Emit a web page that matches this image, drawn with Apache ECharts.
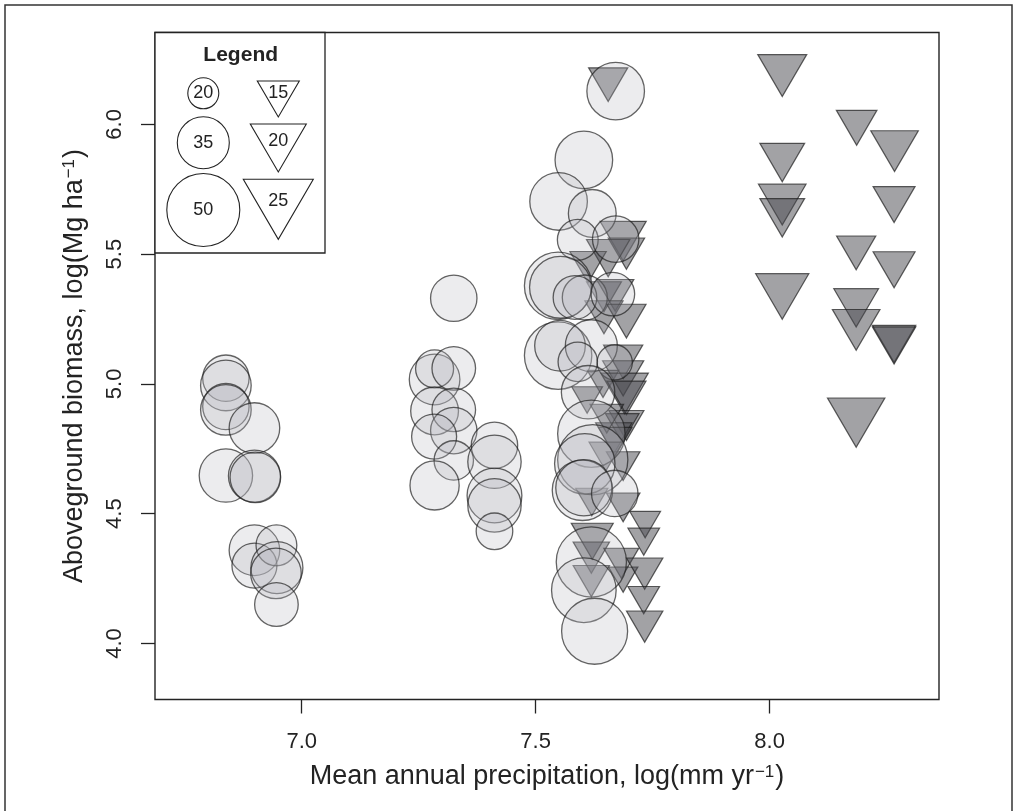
<!DOCTYPE html>
<html><head><meta charset="utf-8">
<script src="https://cdn.jsdelivr.net/npm/echarts@6/dist/echarts.min.js"></script>
<style>html,body{margin:0;padding:0;background:#fff}#c{width:1018px;height:811px}</style>
</head><body><div id="c"></div>
<script>
// ---- data ----
const xTicks = [7.0, 7.5, 8.0];
const yTicks = [4.0, 4.5, 5.0, 5.5, 6.0];
const legendCircleValues = [20, 35, 50];
const legendTriangleValues = [15, 20, 25];

// [log mean annual precipitation, log aboveground biomass, size value]
const circlesDry = [
  [6.838,5.022,31],[6.838,4.994,34],[6.838,4.913,31],[6.838,4.900,34],[6.899,4.830,34],
  [6.838,4.647,36],[6.899,4.645,35],[6.901,4.640,34],[6.899,4.359,34],[6.899,4.300,30],
  [6.946,4.378,27],[6.947,4.292,35],[6.945,4.270,34],[6.946,4.150,29]
];
const circlesMid = [
  [7.325,5.330,31],[7.284,5.017,34],[7.284,5.058,25],[7.325,5.060,29],[7.284,4.896,32],
  [7.325,4.900,29],[7.325,4.820,31],[7.283,4.797,30],[7.325,4.705,26],[7.284,4.609,33],
  [7.412,4.763,31],[7.412,4.700,36],[7.412,4.570,37],[7.412,4.532,36],[7.412,4.432,24]
];
const circlesWet = [
  [7.671,6.128,39],[7.603,5.863,39],[7.549,5.703,39],[7.621,5.657,32],[7.590,5.555,27],
  [7.671,5.558,31],[7.548,5.378,46],[7.553,5.372,42],[7.605,5.333,30],[7.584,5.333,29],
  [7.665,5.346,29],[7.548,5.109,46],[7.552,5.147,34],[7.619,5.147,35],[7.590,5.085,26],
  [7.669,5.083,23],[7.612,4.968,36],[7.619,4.808,46],[7.622,4.708,48],[7.605,4.692,41],
  [7.600,4.590,41],[7.603,4.600,38],[7.669,4.578,31],[7.619,4.314,48],[7.603,4.205,44],
  [7.626,4.047,45]
];
const trianglesWet = [
  [7.655,6.153,14],[7.687,5.550,16.5],[7.694,5.502,13],[7.655,5.485,15.5],[7.612,5.450,13],
  [7.646,5.336,12.5],[7.670,5.341,13.3],[7.646,5.257,13.7],[7.694,5.242,14],[7.687,5.085,14],
  [7.644,5.000,11.3],[7.687,5.021,14.7],[7.690,4.963,17],[7.694,4.946,14],[7.694,4.840,12.5],
  [7.685,4.830,12],[7.667,4.790,13],[7.670,4.777,12],[7.687,4.683,12],[7.652,4.866,12],
  [7.650,4.720,12],[7.620,4.545,11.5],[7.687,4.524,12],[7.621,4.394,15],[7.619,4.331,13],
  [7.683,4.309,12.5],[7.619,4.240,13],[7.687,4.246,10.5],[7.734,4.458,11],[7.731,4.392,11.3],
  [7.733,4.269,13],[7.731,4.167,11.3],[7.733,4.065,13],[7.610,4.938,11]
];
const trianglesHumid = [
  [8.027,6.188,17.5],[8.186,5.987,14.5],[8.267,5.897,17],[8.027,5.853,16],[8.027,5.691,17],
  [8.027,5.640,16],[8.266,5.691,15],[8.185,5.505,14],[8.266,5.440,15],[8.027,5.337,19],
  [8.185,5.293,16],[8.185,5.208,17],[8.266,5.154,15.5],[8.266,5.148,15.5],[8.185,4.851,20.5]
];

// ---- styling helpers ----
const FONT = '"Liberation Sans", Arial, Helvetica, sans-serif';
const INK = '#232323';
const circleDiam = v => 1.4 * v + 3;
const triW = v => 2.8 * v;
const triH = v => 2.4 * v;
const TRI_PATH = 'path://M0 0 L10 0 L5 8.57 Z';

const chart = echarts.init(document.getElementById('c'), null, {renderer: 'canvas'});

// legend graphic
const legendG = [];
legendG.push({type:'rect', shape:{x:155, y:32.5, width:170, height:220.5},
  style:{fill:'#fff', stroke:INK, lineWidth:1.3}, z:10});
legendG.push({type:'text', z:11, style:{text:'Legend', x:240.7, y:55, textAlign:'center', textVerticalAlign:'middle',
  align:'center', verticalAlign:'middle', font:'bold 21px ' + FONT, fill:INK}});
const lgCircleCY = [93.3, 142.7, 210];
const lgTriTop = [81, 124, 179.3];
const lgTriLabelY = [93.3, 141, 200.7];
legendCircleValues.forEach((v, i) => {
  legendG.push({type:'circle', z:11, shape:{cx:203.3, cy:lgCircleCY[i], r:circleDiam(v)/2},
    style:{fill:'none', stroke:INK, lineWidth:1.1}});
  legendG.push({type:'text', z:12, style:{text:String(v), x:203.3, y:lgCircleCY[i], textAlign:'center', textVerticalAlign:'middle',
    align:'center', verticalAlign:'middle', font:'18px ' + FONT, fill:INK}});
});
legendTriangleValues.forEach((v, i) => {
  const w = triW(v), h = triH(v), cx = 278.3, t = lgTriTop[i];
  legendG.push({type:'polygon', z:11, shape:{points:[[cx - w/2, t], [cx + w/2, t], [cx, t + h]]},
    style:{fill:'none', stroke:INK, lineWidth:1.1}});
  legendG.push({type:'text', z:12, style:{text:String(v), x:cx, y:lgTriLabelY[i], textAlign:'center', textVerticalAlign:'middle',
    align:'center', verticalAlign:'middle', font:'18px ' + FONT, fill:INK}});
});
// outer figure frame
legendG.push({type:'rect', z:0, shape:{x:5, y:5, width:1007, height:840},
  style:{fill:'none', stroke:'#333', lineWidth:1.5}, silent:true});

const supRich = {sup:{fontSize:17, verticalAlign:'top', fontFamily:FONT, color:INK, padding:[0,1,0,1]}};

const option = {
  animation: false,
  backgroundColor: '#fff',
  grid: {left:155, top:32.5, width:784, height:667, show:true, borderColor:INK, borderWidth:1.4, backgroundColor:'transparent'},
  xAxis: {
    type:'value', min:6.6865, max:8.362,
    splitLine:{show:false},
    axisLine:{show:false},
    axisTick:{show:true, inside:false, length:14, customValues:xTicks, lineStyle:{color:INK, width:1.3}},
    axisLabel:{customValues:xTicks, formatter:v => v.toFixed(1), fontSize:22, fontFamily:FONT, color:INK, margin:31},
    name:'Mean annual precipitation, log(mm yr{sup|\u22121})',
    nameLocation:'middle', nameGap:64,
    nameTextStyle:{fontSize:27, fontFamily:FONT, color:INK, rich:supRich}
  },
  yAxis: {
    type:'value', min:3.784, max:6.354,
    splitLine:{show:false},
    axisLine:{show:false},
    axisTick:{show:true, inside:false, length:14, customValues:yTicks, lineStyle:{color:INK, width:1.3}},
    axisLabel:{customValues:yTicks, formatter:v => v.toFixed(1), fontSize:22, fontFamily:FONT, color:INK, margin:29, rotate:90},
    name:'Aboveground biomass, log(Mg ha{sup|\u22121})',
    nameLocation:'middle', nameGap:67, nameRotate:90,
    nameTextStyle:{fontSize:27, fontFamily:FONT, color:INK, rich:supRich}
  },
  graphic: legendG,
  series: [
    {
      type:'scatter', name:'triangles', z:2,
      data: trianglesHumid.concat(trianglesWet),
      symbol: TRI_PATH,
      symbolSize: val => [triW(val[2]), triH(val[2])],
      itemStyle:{color:'rgba(72,73,78,0.64)', borderColor:'rgba(25,25,25,0.85)', borderWidth:1.2},
      emphasis:{disabled:true}, silent:true
    },
    {
      type:'scatter', name:'circles', z:3,
      data: circlesDry.concat(circlesMid, circlesWet),
      symbol:'circle',
      symbolSize: val => circleDiam(val[2]),
      itemStyle:{color:'rgba(182,184,190,0.33)', borderColor:'rgba(30,30,30,0.85)', borderWidth:1.3},
      emphasis:{disabled:true}, silent:true
    }
  ]
};
chart.setOption(option);
</script>
</body></html>
